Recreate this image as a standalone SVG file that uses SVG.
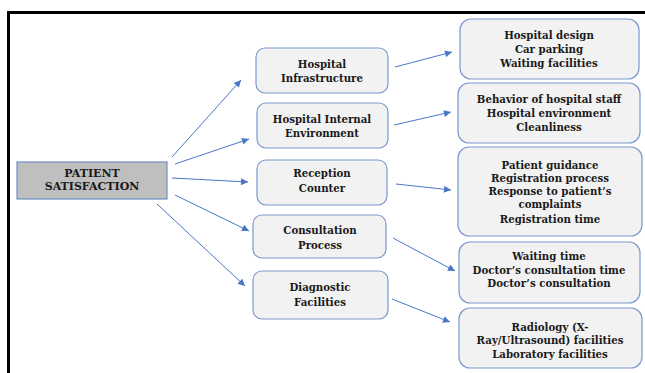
<svg xmlns="http://www.w3.org/2000/svg" width="645" height="373" viewBox="0 0 645 373">
<style>
.box{fill:#f2f2f2;stroke:#7b98d0;stroke-width:1.2}
.root{fill:#bfbfbf;stroke:#6f8fc8;stroke-width:1.2}
text{font-family:"DejaVu Serif","Liberation Serif",serif;font-weight:bold;font-size:10.2px;fill:#1a1a1a;text-anchor:middle}
.rt{font-size:11px}
.c line{stroke:#4a76c6;stroke-width:1;marker-end:url(#ah)}
</style>
<defs>
<marker id="ah" viewBox="0 0 10 10" refX="10" refY="5" markerWidth="9" markerHeight="7" markerUnits="userSpaceOnUse" orient="auto">
<path d="M0,0 L10,5 L0,10 z" fill="#4a76c6"/>
</marker>
</defs>
<rect width="645" height="373" fill="#fff"/>
<path d="M8.5,373 V12.5 H645" fill="none" stroke="#000" stroke-width="3"/>
<g id="patient">
<rect class="root" x="17" y="162" width="150" height="37"/>
<text class="rt" x="92" y="177">PATIENT</text>
<text class="rt" x="92" y="190">SATISFACTION</text>
</g>
<g id="infra">
<rect class="box" x="256" y="48" width="132" height="45" rx="9"/>
<text x="322" y="68">Hospital</text>
<text x="322" y="82">Infrastructure</text>
</g>
<g id="internal">
<rect class="box" x="257" y="103" width="131" height="45" rx="9"/>
<text x="322" y="123">Hospital Internal</text>
<text x="322" y="137">Environment</text>
</g>
<g id="reception">
<rect class="box" x="257" y="160" width="130" height="45" rx="9"/>
<text x="322" y="177">Reception</text>
<text x="322" y="192">Counter</text>
</g>
<g id="consult">
<rect class="box" x="253" y="215" width="133" height="43" rx="9"/>
<text x="320" y="234">Consultation</text>
<text x="320" y="249">Process</text>
</g>
<g id="diag">
<rect class="box" x="253" y="271" width="135" height="48" rx="9"/>
<text x="320" y="291">Diagnostic</text>
<text x="320" y="306">Facilities</text>
</g>
<g id="r1">
<rect class="box" x="460" y="19" width="179" height="60" rx="11"/>
<text x="549" y="39">Hospital design</text>
<text x="549" y="53">Car parking</text>
<text x="549" y="67">Waiting facilities</text>
</g>
<g id="r2">
<rect class="box" x="458" y="83" width="182" height="60" rx="11"/>
<text x="549" y="103">Behavior of hospital staff</text>
<text x="549" y="117">Hospital environment</text>
<text x="549" y="131">Cleanliness</text>
</g>
<g id="r3">
<rect class="box" x="458" y="147" width="184" height="89" rx="11"/>
<text x="550" y="169">Patient guidance</text>
<text x="550" y="182">Registration process</text>
<text x="550" y="195">Response to patient’s</text>
<text x="550" y="208">complaints</text>
<text x="550" y="223">Registration time</text>
</g>
<g id="r4">
<rect class="box" x="459" y="242" width="181" height="61" rx="11"/>
<text x="549" y="260">Waiting time</text>
<text x="549" y="274">Doctor’s consultation time</text>
<text x="549" y="287">Doctor’s consultation</text>
</g>
<g id="r5">
<rect class="box" x="459" y="308" width="183" height="60" rx="11"/>
<text x="550" y="331">Radiology (X-</text>
<text x="550" y="344">Ray/Ultrasound) facilities</text>
<text x="550" y="358">Laboratory facilities</text>
</g>
<g class="c" id="connectors">
<line x1="172" y1="157" x2="241" y2="80"/>
<line x1="175" y1="164" x2="249" y2="139"/>
<line x1="172" y1="178" x2="248" y2="182"/>
<line x1="175" y1="195" x2="249" y2="231"/>
<line x1="157" y1="204" x2="245" y2="286"/>
<line x1="395" y1="67" x2="452" y2="52"/>
<line x1="394" y1="125" x2="451" y2="112"/>
<line x1="396" y1="184" x2="451" y2="190"/>
<line x1="393" y1="238" x2="455" y2="271"/>
<line x1="392" y1="299" x2="450" y2="322"/>
</g>
</svg>
